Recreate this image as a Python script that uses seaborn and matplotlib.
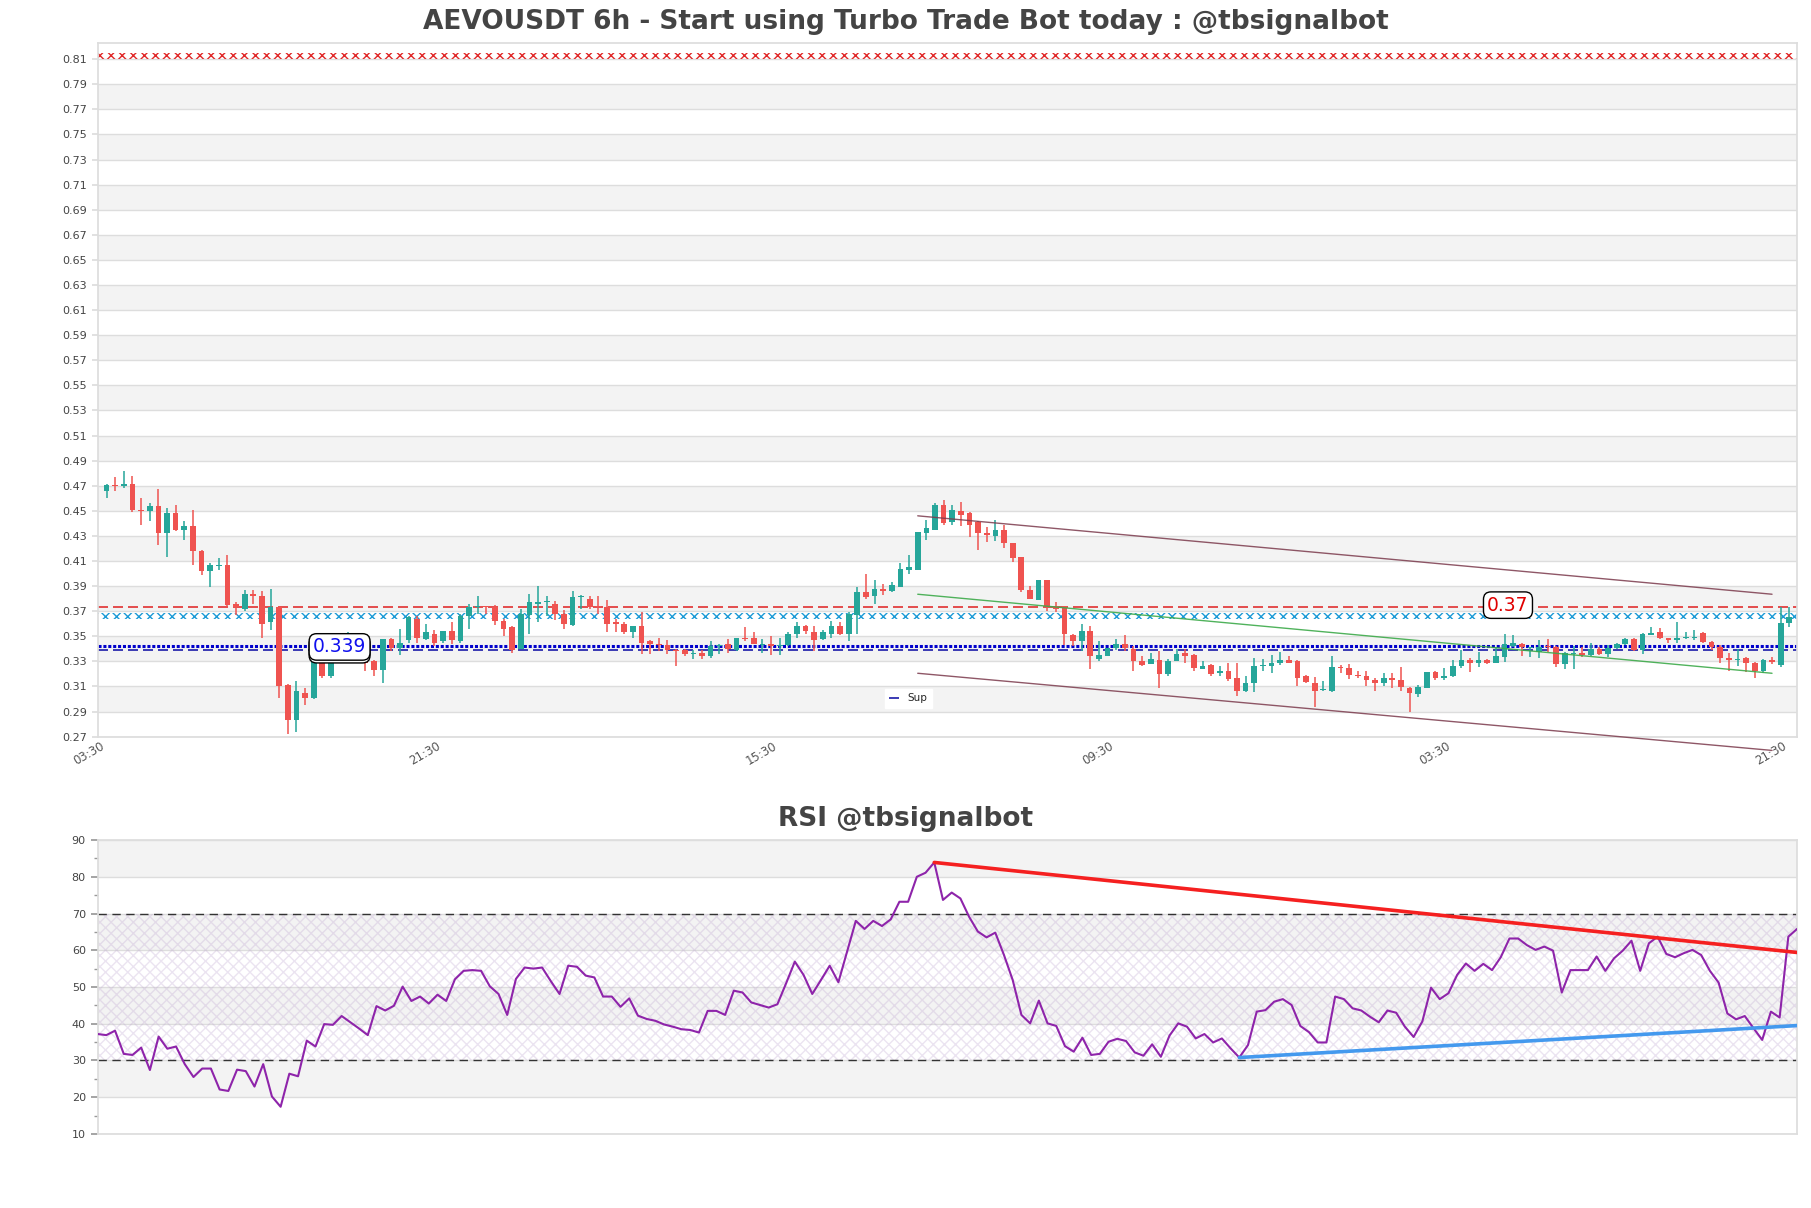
"""AEVOUSDT 6h candles with support/resistance levels and an RSI panel"""
import numpy as np
import pandas as pd
import seaborn as sns
import matplotlib.pyplot as plt
from matplotlib.ticker import MultipleLocator
from matplotlib.transforms import ScaledTranslation

# candle data (6h candles)
opens = [0.466, 0.4706, 0.470, 0.471, 0.451, 0.450, 0.454, 0.432, 0.448, 0.435,
         0.438, 0.418, 0.402, 0.406, 0.407, 0.376, 0.372, 0.384, 0.382, 0.361,
         0.373, 0.311, 0.283, 0.305, 0.301, 0.330, 0.318, 0.336, 0.338, 0.339,
         0.334, 0.330, 0.323, 0.348, 0.341, 0.347, 0.364, 0.348, 0.352, 0.346,
         0.354, 0.346, 0.366, 0.373, 0.374, 0.373, 0.362, 0.357, 0.340, 0.367,
         0.376, 0.377, 0.376, 0.368, 0.359, 0.381, 0.380, 0.374, 0.373, 0.361,
         0.360, 0.353, 0.358, 0.346, 0.344, 0.343, 0.339, 0.339, 0.336, 0.337,
         0.334, 0.342, 0.344, 0.339, 0.349, 0.349, 0.343, 0.344, 0.342, 0.343,
         0.352, 0.358, 0.353, 0.348, 0.352, 0.358, 0.352, 0.367, 0.385, 0.382,
         0.388, 0.386, 0.389, 0.403, 0.403, 0.432, 0.435, 0.455, 0.441, 0.450,
         0.448, 0.441, 0.432, 0.430, 0.435, 0.424, 0.413, 0.387, 0.379, 0.395,
         0.374, 0.374, 0.351, 0.346, 0.354, 0.332, 0.334, 0.341, 0.344, 0.340,
         0.330, 0.328, 0.331, 0.320, 0.330, 0.337, 0.335, 0.324, 0.327, 0.3205,
         0.322, 0.3165, 0.306, 0.313, 0.326, 0.3265, 0.329, 0.331, 0.330, 0.318,
         0.3125, 0.307, 0.306, 0.3258, 0.325, 0.319, 0.318, 0.315, 0.3125, 0.3165,
         0.3152, 0.3085, 0.304, 0.309, 0.3213, 0.3165, 0.318, 0.3264, 0.3311, 0.3285,
         0.331, 0.329, 0.3338, 0.3425, 0.3437, 0.3404, 0.3378, 0.342, 0.3417, 0.3277,
         0.336, 0.3365, 0.3352, 0.3398, 0.3358, 0.3404, 0.3437, 0.3477, 0.339, 0.3507,
         0.3537, 0.3484, 0.3471, 0.3484, 0.3484, 0.3524, 0.3457, 0.3411, 0.3325, 0.3311,
         0.3325, 0.3285, 0.3225, 0.331, 0.3271, 0.3603]
highs = [0.471, 0.477, 0.482, 0.478, 0.460, 0.456, 0.467, 0.452, 0.455, 0.442,
         0.451, 0.419, 0.408, 0.412, 0.415, 0.377, 0.387, 0.387, 0.386, 0.388,
         0.374, 0.312, 0.314, 0.309, 0.332, 0.334, 0.340, 0.345, 0.353, 0.340,
         0.335, 0.331, 0.348, 0.349, 0.356, 0.366, 0.366, 0.360, 0.355, 0.354,
         0.361, 0.368, 0.376, 0.382, 0.374, 0.375, 0.364, 0.358, 0.372, 0.384,
         0.390, 0.382, 0.378, 0.371, 0.386, 0.383, 0.382, 0.382, 0.379, 0.364,
         0.361, 0.358, 0.369, 0.347, 0.349, 0.347, 0.340, 0.340, 0.339, 0.339,
         0.346, 0.344, 0.348, 0.349, 0.357, 0.353, 0.348, 0.350, 0.349, 0.353,
         0.361, 0.359, 0.358, 0.355, 0.362, 0.361, 0.369, 0.389, 0.3996, 0.395,
         0.392, 0.393, 0.408, 0.415, 0.433, 0.443, 0.456, 0.459, 0.455, 0.457,
         0.449, 0.442, 0.437, 0.443, 0.439, 0.4246, 0.4135, 0.390, 0.395, 0.395,
         0.377, 0.374, 0.352, 0.360, 0.358, 0.346, 0.341, 0.348, 0.351, 0.342,
         0.334, 0.337, 0.338, 0.332, 0.340, 0.340, 0.3356, 0.330, 0.328, 0.3266,
         0.329, 0.329, 0.318, 0.3324, 0.332, 0.335, 0.3377, 0.334, 0.331, 0.319,
         0.3178, 0.314, 0.334, 0.327, 0.328, 0.3226, 0.322, 0.317, 0.321, 0.3205,
         0.3258, 0.3093, 0.3112, 0.3213, 0.3226, 0.3245, 0.331, 0.3391, 0.3324, 0.3377,
         0.3318, 0.3417, 0.3515, 0.351, 0.3444, 0.3417, 0.347, 0.3476, 0.3424, 0.3372,
         0.3425, 0.3417, 0.3444, 0.3417, 0.343, 0.3444, 0.349, 0.349, 0.3524, 0.3577,
         0.3564, 0.349, 0.3617, 0.3537, 0.3550, 0.3537, 0.3464, 0.343, 0.3364, 0.3398,
         0.3338, 0.3298, 0.3318, 0.3338, 0.3736, 0.3730]
lows = [0.460, 0.466, 0.468, 0.449, 0.439, 0.442, 0.423, 0.413, 0.434, 0.427,
        0.407, 0.399, 0.389, 0.403, 0.373, 0.367, 0.370, 0.376, 0.349, 0.355,
        0.301, 0.272, 0.274, 0.295, 0.300, 0.317, 0.317, 0.333, 0.335, 0.330,
        0.322, 0.318, 0.313, 0.338, 0.335, 0.345, 0.345, 0.347, 0.342, 0.345,
        0.344, 0.345, 0.356, 0.368, 0.368, 0.359, 0.350, 0.337, 0.340, 0.352,
        0.361, 0.366, 0.363, 0.356, 0.358, 0.372, 0.372, 0.368, 0.353, 0.353,
        0.352, 0.349, 0.336, 0.336, 0.338, 0.336, 0.326, 0.334, 0.332, 0.332,
        0.333, 0.336, 0.337, 0.338, 0.346, 0.344, 0.337, 0.335, 0.335, 0.342,
        0.349, 0.352, 0.338, 0.347, 0.349, 0.351, 0.346, 0.352, 0.380, 0.376,
        0.383, 0.385, 0.389, 0.400, 0.403, 0.427, 0.435, 0.439, 0.439, 0.438,
        0.429, 0.419, 0.425, 0.426, 0.420, 0.409, 0.385, 0.380, 0.379, 0.370,
        0.369, 0.343, 0.342, 0.338, 0.324, 0.330, 0.334, 0.339, 0.338, 0.322,
        0.326, 0.328, 0.309, 0.3186, 0.330, 0.329, 0.322, 0.3237, 0.3186, 0.318,
        0.314, 0.302, 0.3053, 0.3053, 0.322, 0.321, 0.327, 0.3287, 0.310, 0.313,
        0.294, 0.306, 0.3053, 0.321, 0.316, 0.3165, 0.310, 0.3067, 0.3107, 0.309,
        0.306, 0.290, 0.3019, 0.3085, 0.315, 0.315, 0.3174, 0.3245, 0.3218, 0.3253,
        0.328, 0.3285, 0.3293, 0.3417, 0.3345, 0.3338, 0.3325, 0.3378, 0.3258, 0.324,
        0.3237, 0.3338, 0.3345, 0.3351, 0.3332, 0.3398, 0.343, 0.3385, 0.336, 0.3518,
        0.3476, 0.3444, 0.3444, 0.3476, 0.3471, 0.3444, 0.339, 0.3285, 0.3223, 0.3265,
        0.3218, 0.317, 0.3205, 0.3278, 0.3258, 0.3570]
closes = [0.4706, 0.470, 0.471, 0.451, 0.450, 0.454, 0.432, 0.448, 0.435, 0.438,
          0.418, 0.402, 0.407, 0.407, 0.375, 0.373, 0.384, 0.382, 0.360, 0.373,
          0.310, 0.283, 0.306, 0.301, 0.330, 0.318, 0.336, 0.338, 0.339, 0.334,
          0.329, 0.323, 0.348, 0.341, 0.345, 0.365, 0.349, 0.353, 0.345, 0.354,
          0.347, 0.366, 0.373, 0.374, 0.373, 0.362, 0.356, 0.339, 0.368, 0.377,
          0.377, 0.378, 0.368, 0.360, 0.381, 0.382, 0.373, 0.373, 0.360, 0.360,
          0.353, 0.358, 0.345, 0.344, 0.343, 0.339, 0.338, 0.336, 0.337, 0.334,
          0.342, 0.343, 0.340, 0.349, 0.348, 0.344, 0.344, 0.342, 0.343, 0.352,
          0.358, 0.354, 0.347, 0.353, 0.358, 0.352, 0.368, 0.385, 0.381, 0.388,
          0.386, 0.391, 0.404, 0.405, 0.433, 0.436, 0.455, 0.440, 0.451, 0.447,
          0.439, 0.432, 0.431, 0.435, 0.424, 0.412, 0.387, 0.380, 0.395, 0.3736,
          0.372, 0.352, 0.346, 0.354, 0.334, 0.335, 0.341, 0.344, 0.341, 0.330,
          0.327, 0.332, 0.320, 0.330, 0.336, 0.334, 0.325, 0.326, 0.320, 0.322,
          0.316, 0.3067, 0.313, 0.326, 0.327, 0.329, 0.331, 0.329, 0.317, 0.3138,
          0.3067, 0.3075, 0.3258, 0.3245, 0.319, 0.318, 0.315, 0.3125, 0.3165, 0.315,
          0.3093, 0.3045, 0.3093, 0.3213, 0.3165, 0.3185, 0.3264, 0.3311, 0.3285, 0.3311,
          0.329, 0.3343, 0.3437, 0.3447, 0.3412, 0.341, 0.3417, 0.3417, 0.3277, 0.3365,
          0.3365, 0.3352, 0.3398, 0.3358, 0.3404, 0.3437, 0.3477, 0.3391, 0.3516, 0.3524,
          0.3484, 0.3471, 0.3484, 0.349, 0.349, 0.3457, 0.3411, 0.3325, 0.3311, 0.3318,
          0.3285, 0.3225, 0.3311, 0.3297, 0.3603, 0.3651]
rsi = [37.2, 36.9, 38.1, 31.8, 31.5, 33.5, 27.4, 36.5, 33.2, 33.8,
       29.0, 25.5, 27.8, 27.8, 22.1, 21.7, 27.5, 27.1, 22.9, 29.0,
       20.2, 17.4, 26.4, 25.7, 35.4, 33.8, 39.9, 39.7, 42.1, 40.4,
       38.7, 36.9, 44.8, 43.6, 44.9, 50.1, 46.2, 47.4, 45.5, 47.9,
       46.2, 52.1, 54.4, 54.6, 54.4, 50.2, 48.1, 42.4, 52.2, 55.3,
       55.0, 55.3, 51.6, 48.1, 55.8, 55.5, 53.1, 52.6, 47.4, 47.4,
       44.6, 46.9, 42.2, 41.3, 40.8, 39.8, 39.2, 38.5, 38.3, 37.6,
       43.5, 43.5, 42.4, 49.0, 48.5, 45.8, 45.1, 44.4, 45.3, 51.0,
       56.9, 53.3, 48.1, 51.9, 55.8, 51.3, 59.6, 68.0, 65.8, 68.0,
       66.6, 68.4, 73.2, 73.2, 80.0, 81.1, 83.9, 73.7, 75.7, 74.1,
       69.1, 65.1, 63.5, 64.8, 58.7, 51.9, 42.4, 40.1, 46.3, 40.1,
       39.4, 33.9, 32.4, 36.2, 31.5, 31.8, 35.1, 35.9, 35.3, 32.2,
       31.3, 34.4, 31.0, 36.8, 40.1, 39.2, 36.0, 37.2, 34.9, 36.0,
       33.3, 30.8, 34.2, 43.3, 43.7, 46.0, 46.7, 45.1, 39.4, 37.7,
       34.9, 34.9, 47.4, 46.7, 44.2, 43.6, 41.9, 40.4, 43.6, 43.0,
       39.2, 36.4, 40.6, 49.8, 46.7, 48.3, 53.3, 56.4, 54.4, 56.3,
       54.6, 58.1, 63.2, 63.2, 61.4, 60.1, 61.0, 59.9, 48.5, 54.6,
       54.6, 54.6, 58.3, 54.4, 57.8, 59.9, 62.6, 54.4, 61.9, 63.7,
       59.0, 58.1, 59.2, 60.1, 58.7, 54.4, 51.2, 42.8, 41.2, 42.1,
       38.8, 35.6, 43.3, 41.7, 63.7, 65.8]

tick_pos = [0, 39, 78, 117, 156, 195]
tick_labels = ['03:30', '21:30', '15:30', '09:30', '03:30', '21:30']

# levels and trend lines
red_zone = 0.8128
blue_zone = 0.3664
res_level = 0.3734
sup_level = 0.339
sup_dotted = 0.342
sup_label = '0.339'
res_label = '0.37'
sup_label_x, sup_label_y = 27, 0.3415
res_label_x, res_label_y = 162.4, 0.3748
channel_x = [94, 193]
channel_upper = [0.446, 0.3835]
channel_mid = [0.3835, 0.3205]
channel_lower = [0.3205, 0.259]
rsi_res_x, rsi_res_y = [96, 195], [83.9, 59.4]
rsi_sup_x, rsi_sup_y = [131, 195], [30.8, 39.5]

df = pd.DataFrame({'open': opens, 'high': highs, 'low': lows, 'close': closes, 'rsi': rsi})
df['idx'] = np.arange(len(df))

sns.set_theme(style='white')
plt.rcParams['font.family'] = ['DejaVu Sans']
plt.rcParams['hatch.linewidth'] = 1.0

fig = plt.figure(figsize=(18.11, 12.08), dpi=100)
ax = fig.add_axes([0.0539, 0.3899, 0.9384, 0.5743])
ax2 = fig.add_axes([0.0539, 0.0613, 0.9384, 0.2433])

# ---- price panel ----
ax.set_ylim(0.2697, 0.8227)
ax.set_xlim(-1.04, 195.9)
yt = np.round(np.arange(0.27, 0.8101, 0.02), 2)
for lo in yt[1:-1:2]:
    ax.axhspan(lo, lo + 0.02, color='#f3f3f3', lw=0, zorder=0)
ax.set_yticks(yt)
ax.set_yticklabels([f'{v:.2f}' for v in yt])
ax.yaxis.grid(True, color='#dddddd', lw=1)
ax.set_axisbelow(True)

# hatched zones
ax.axhspan(red_zone - 0.0025, red_zone + 0.0025, facecolor='none',
           edgecolor='#e02828', hatch='xxx', lw=0, zorder=2)
ax.axhspan(blue_zone - 0.0026, blue_zone + 0.0024, facecolor='none',
           edgecolor='#1b9ad6', hatch='xxx', lw=0, zorder=2)
ax.axhline(res_level, color='#e03030', ls=(0, (6, 3)), lw=1.2, zorder=2)
ax.axhline(sup_dotted, color='#0000cc', ls=(0, (1, 0.6)), lw=2.2, zorder=2)
ax.axhline(sup_level, color='#1a1aa8', ls=(0, (6, 3)), lw=1.2, zorder=2, label='Sup')

# candles
up = df['close'] >= df['open']
colors = np.where(up, '#26a69a', '#ef5350')
body_lo = df[['open', 'close']].min(axis=1)
body_h = (df['close'] - df['open']).abs().clip(lower=0.0008)
ax.vlines(df['idx'], df['low'], df['high'], colors=colors, lw=1.1, zorder=3)
ax.bar(df['idx'], body_h, bottom=body_lo, width=0.66, color=colors, lw=0, zorder=4)

# channel
ax.plot(channel_x, channel_upper, color='#7b3a4c', lw=1, alpha=0.85, zorder=5, clip_on=False)
ax.plot(channel_x, channel_lower, color='#7b3a4c', lw=1, alpha=0.85, zorder=5, clip_on=False)
ax.plot(channel_x, channel_mid, color='#3daa4a', lw=1, alpha=0.9, zorder=5, clip_on=False)

# level labels
box = dict(boxstyle='round,pad=0.2,rounding_size=0.4', fc='white', ec='black', lw=1)
ax.annotate(sup_label, (sup_label_x, sup_label_y), xytext=(0, -2), textcoords='offset points',
            ha='center', va='center', fontsize=13.5, color='none', bbox=box, zorder=6)
ax.annotate(sup_label, (sup_label_x, sup_label_y), ha='center', va='center',
            fontsize=13.5, color='#1010ee', bbox=box, zorder=7)
ax.text(res_label_x, res_label_y, res_label, ha='center', va='center', fontsize=13.5,
        color='#e00000', bbox=box, zorder=7)

ax.set_xticks(tick_pos)
ax.set_xticklabels(tick_labels, rotation=30, ha='right', fontsize=8.5, color='#555555')
shift = ScaledTranslation(-0.12, 0, fig.dpi_scale_trans)
for lab in ax.get_xticklabels():
    lab.set_transform(lab.get_transform() + shift)
ax.tick_params(axis='y', labelsize=8, labelcolor='#444444', length=4, color='#dddddd', left=True)
ax.tick_params(axis='x', length=0, pad=2)
for s in ax.spines.values():
    s.set_color('#dddddd')

leg = ax.legend(loc='lower left', bbox_to_anchor=(0.46, 0.035), fontsize=7.5,
                handlelength=1.0, frameon=True, framealpha=1, edgecolor='white',
                fancybox=False)

# ---- RSI panel ----
ax2.set_xlim(0, len(rsi) - 1)
ax2.set_ylim(10, 90)
for lo in [20, 40, 60, 80]:
    ax2.axhspan(lo, lo + 10, color='#f3f3f3', lw=0, zorder=0)
ax2.axhspan(30, 70, facecolor='none', edgecolor=(0.75, 0.65, 0.82, 0.3),
            hatch='xxx', lw=0, zorder=1)
ax2.yaxis.set_major_locator(MultipleLocator(10))
ax2.yaxis.set_minor_locator(MultipleLocator(5))
ax2.yaxis.grid(True, color='#dddddd', lw=1)
ax2.set_axisbelow(True)
ax2.axhline(70, color='#333333', ls=(0, (6, 4)), lw=1, zorder=2)
ax2.axhline(30, color='#333333', ls=(0, (6, 4)), lw=1, zorder=2)
sns.lineplot(data=df, x='idx', y='rsi', ax=ax2, color='#8e24aa', lw=1.5, zorder=3)
ax2.plot(rsi_res_x, rsi_res_y, color='#f52020', lw=2.6, zorder=4)
ax2.plot(rsi_sup_x, rsi_sup_y, color='#4499ee', lw=2.6, zorder=4)
ax2.set_xlabel('')
ax2.set_ylabel('')
ax2.set_xticks([])
ax2.tick_params(axis='y', which='major', labelsize=8, labelcolor='#444444',
                length=5, color='#999999', left=True)
ax2.tick_params(axis='y', which='minor', length=3, color='#999999', left=True)
for s in ax2.spines.values():
    s.set_color('#dddddd')

fig.text(0.5, 0.9818, 'AEVOUSDT 6h - Start using Turbo Trade Bot today : @tbsignalbot',
         ha='center', va='center', fontsize=19, fontweight='bold', color='#444444')
fig.text(0.5, 0.322, 'RSI @tbsignalbot', ha='center', va='center', fontsize=19,
         fontweight='bold', color='#444444')

fig.savefig('out.png', dpi=100, facecolor='white')
